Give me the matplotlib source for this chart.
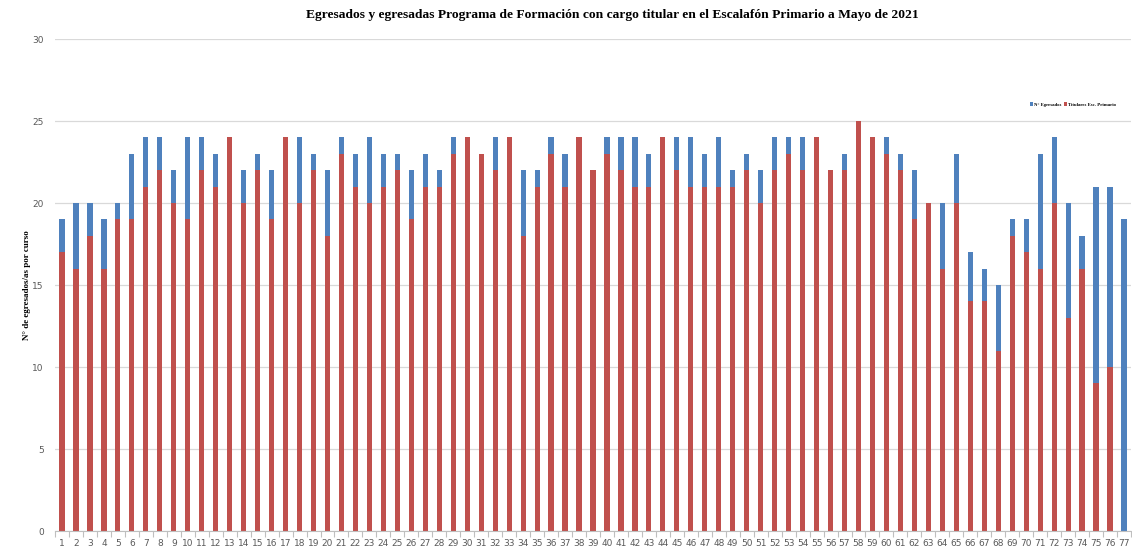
import numpy as np
from matplotlib import pyplot as plt
from matplotlib.ticker import MultipleLocator, FixedLocator

cursos = list(range(1, 78))
total = [19, 20, 20, 19, 20, 23, 24, 24, 22, 24,
         24, 23, 24, 22, 23, 22, 24, 24, 23, 22,
         24, 23, 24, 23, 23, 22, 23, 22, 24, 24,
         23, 24, 24, 22, 22, 24, 23, 24, 22, 24,
         24, 24, 23, 24, 24, 24, 23, 24, 22, 23,
         22, 24, 24, 24, 24, 22, 23, 25, 24, 24,
         23, 22, 20, 20, 23, 17, 16, 15, 19, 19,
         23, 24, 20, 18, 21, 21, 19]
titulares = [17, 16, 18, 16, 19, 19, 21, 22, 20, 19,
             22, 21, 24, 20, 22, 19, 24, 20, 22, 18,
             23, 21, 20, 21, 22, 19, 21, 21, 23, 24,
             23, 22, 24, 18, 21, 23, 21, 24, 22, 23,
             22, 21, 21, 24, 22, 21, 21, 21, 21, 22,
             20, 22, 23, 22, 24, 22, 22, 25, 24, 23,
             22, 19, 20, 16, 20, 14, 14, 11, 18, 17,
             16, 20, 13, 16, 9, 10, 0]

azul = "#4F81BD"
rojo = "#C0504D"
gris = "#595959"

fig = plt.figure(figsize=(11.32, 5.5), dpi=100)
ax = fig.add_axes([0.0486, 0.0345, 0.9505, 0.8945])

x = np.array(cursos)
ax.bar(x, total, width=0.37, color=azul, label="N° Egresados", zorder=2)
ax.bar(x, titulares, width=0.37, color=rojo, label="Titulares Esc. Primario", zorder=3)

ax.set_xlim(0.5, 77.5)
ax.set_ylim(0, 30)
ax.yaxis.set_major_locator(MultipleLocator(5))
ax.set_xticks(x)
ax.set_xticklabels([str(c) for c in cursos])
ax.xaxis.set_minor_locator(FixedLocator(np.arange(0.5, 78, 1)))
ax.tick_params(axis="x", which="major", length=0, labelsize=6.5, colors=gris, pad=6)
ax.tick_params(axis="x", which="minor", length=4, color="#BFBFBF", width=0.8)
ax.tick_params(axis="y", length=0, labelsize=6.5, colors=gris, pad=8)

ax.grid(axis="y", color="#D9D9D9", linewidth=0.9, zorder=0)
for s in ["top", "right", "left"]:
    ax.spines[s].set_visible(False)
ax.spines["bottom"].set_color("#BFBFBF")
ax.spines["bottom"].set_zorder(4)

ax.set_ylabel("N° de egresados/as por curso", fontfamily="Liberation Serif",
              fontsize=6.5, fontweight="bold", labelpad=1)

fig.text(0.541, 0.972,
         "Egresados y egresadas Programa de Formación con cargo titular en el Escalafón Primario a Mayo de 2021",
         ha="center", va="center", fontfamily="Liberation Serif", fontweight="bold", fontsize=9.7)

ax.legend(loc="upper right", bbox_to_anchor=(0.99, 0.88), ncol=2, frameon=False,
          handlelength=0.6, handleheight=0.8, handletextpad=0.3, columnspacing=0.5,
          prop={"family": "Liberation Serif", "size": 3.4, "weight": "bold"})

fig.savefig("out.png", dpi=100)
